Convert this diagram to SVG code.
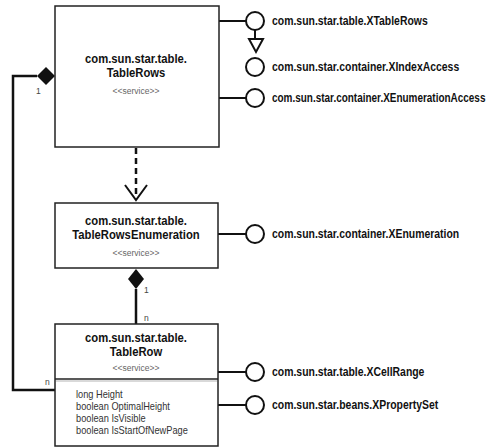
<svg xmlns="http://www.w3.org/2000/svg" width="498" height="447" viewBox="0 0 498 447">
<style>
.box{fill:#fff;stroke:#222;stroke-width:1.5}
.t{font-family:"Liberation Sans",Arial,sans-serif;font-weight:bold;font-size:12px;fill:#111;text-anchor:middle}
.s{font-family:"Liberation Sans",Arial,sans-serif;font-size:8.5px;fill:#666;text-anchor:middle}
.a{font-family:"Liberation Sans",Arial,sans-serif;font-size:10.5px;fill:#333}
.i{font-family:"Liberation Sans",Arial,sans-serif;font-weight:bold;font-size:12px;fill:#111}
.m{font-family:"Liberation Sans",Arial,sans-serif;font-size:8.5px;fill:#444}
.c{fill:none;stroke:#111;stroke-width:2.5}
.l{fill:none;stroke:#111;stroke-width:2}
.ic{fill:#fff;stroke:#111;stroke-width:2}
</style>
<g id="connectors">
<path class="c" d="M55,390 H13 V76 H37"/>
<path d="M37,76 L46,67 L55,76 L46,85 Z" fill="#111"/>
<path class="c" d="M136,289 V324"/>
<path d="M136,269 L144,279 L136,289 L128,279 Z" fill="#111"/>
<path fill="none" stroke="#111" stroke-width="2.5" stroke-dasharray="6,4" d="M136,148 V198"/>
<path fill="none" stroke="#111" stroke-width="2" d="M125,185 L136,200 L147,185"/>
<path class="l" d="M219,21 H246"/>
<path class="l" d="M255,30 V39"/>
<path d="M249,39 H263 L256,52 Z" fill="#fff" stroke="#111" stroke-width="2"/>
<path class="l" d="M219,98 H246"/>
<path class="l" d="M218,234 H246"/>
<path class="l" d="M218,372 H246"/>
<path class="l" d="M218,405 H246"/>
</g>
<g id="TableRows">
<rect class="box" x="55" y="6" width="164" height="141"/>
<text class="t" transform="translate(136,63) scale(0.94,1)">com.sun.star.table.</text>
<text class="t" transform="translate(136,77) scale(0.94,1)">TableRows</text>
<text class="s" x="136" y="94">&lt;&lt;service&gt;&gt;</text>
<text class="m" x="36" y="94">1</text>
</g>
<g id="TableRowsEnumeration">
<rect class="box" x="55" y="203" width="163" height="65"/>
<text class="t" transform="translate(136,225) scale(0.94,1)">com.sun.star.table.</text>
<text class="t" transform="translate(136,239) scale(0.94,1)">TableRowsEnumeration</text>
<text class="s" x="136" y="256">&lt;&lt;service&gt;&gt;</text>
<text class="m" x="144" y="293">1</text>
<text class="m" x="144" y="321">n</text>
</g>
<g id="TableRow">
<rect class="box" x="55" y="324" width="163" height="122"/>
<line x1="55" y1="379" x2="218" y2="379" stroke="#222" stroke-width="1.5"/>
<line x1="56" y1="381" x2="217" y2="381" stroke="#ccc" stroke-width="1.5"/>
<text class="t" transform="translate(136,342) scale(0.94,1)">com.sun.star.table.</text>
<text class="t" transform="translate(136,356) scale(0.94,1)">TableRow</text>
<text class="s" x="136" y="371">&lt;&lt;service&gt;&gt;</text>
<text class="a" transform="translate(76,398) scale(0.88,1)">long Height</text>
<text class="a" transform="translate(76,410) scale(0.88,1)">boolean OptimalHeight</text>
<text class="a" transform="translate(76,422) scale(0.88,1)">boolean IsVisible</text>
<text class="a" transform="translate(76,434) scale(0.88,1)">boolean IsStartOfNewPage</text>
<text class="m" x="45" y="385">n</text>
</g>
<g id="XTableRows">
<circle class="ic" cx="255" cy="21" r="9"/>
<text class="i" transform="translate(272,25) scale(0.87,1)">com.sun.star.table.XTableRows</text>
</g>
<g id="XIndexAccess">
<circle class="ic" cx="255" cy="67" r="9"/>
<text class="i" transform="translate(272,71) scale(0.87,1)">com.sun.star.container.XIndexAccess</text>
</g>
<g id="XEnumerationAccess">
<circle class="ic" cx="255" cy="98" r="9"/>
<text class="i" transform="translate(272,102) scale(0.83,1)">com.sun.star.container.XEnumerationAccess</text>
</g>
<g id="XEnumeration">
<circle class="ic" cx="255" cy="234" r="9"/>
<text class="i" transform="translate(272,238) scale(0.87,1)">com.sun.star.container.XEnumeration</text>
</g>
<g id="XCellRange">
<circle class="ic" cx="255" cy="372" r="9"/>
<text class="i" transform="translate(272,376) scale(0.87,1)">com.sun.star.table.XCellRange</text>
</g>
<g id="XPropertySet">
<circle class="ic" cx="255" cy="405" r="9"/>
<text class="i" transform="translate(272,409) scale(0.87,1)">com.sun.star.beans.XPropertySet</text>
</g>
</svg>
